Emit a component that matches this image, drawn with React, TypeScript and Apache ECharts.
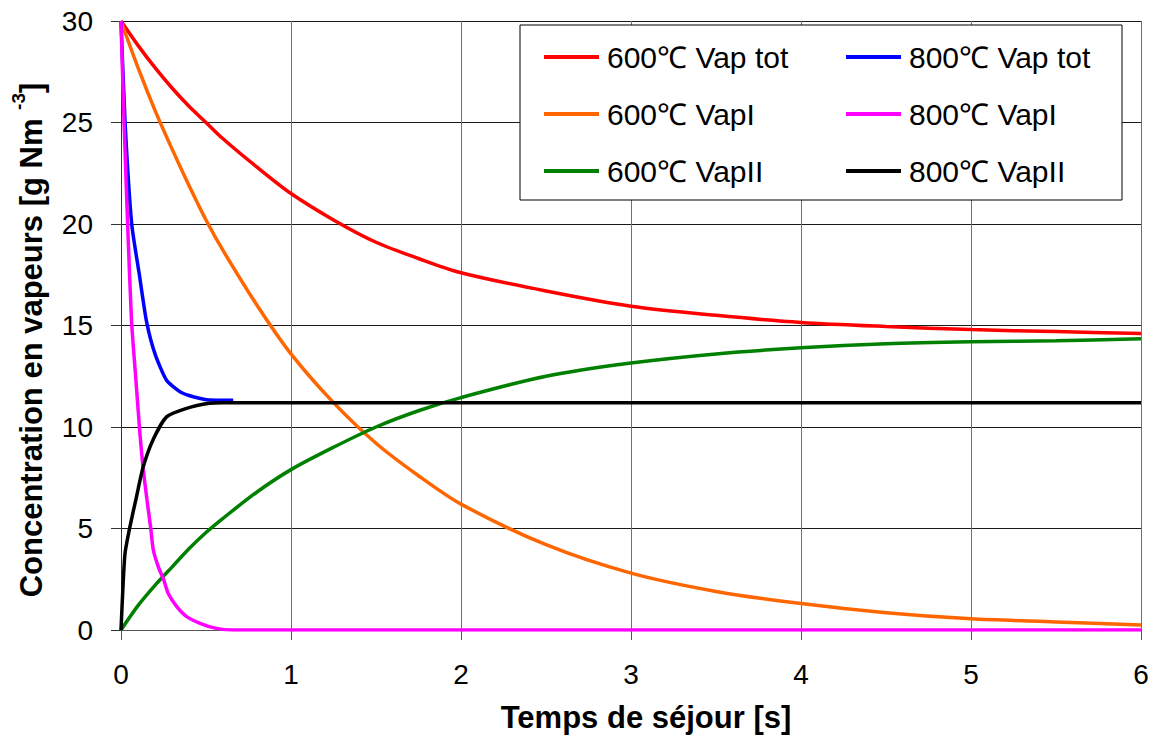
import React, { useEffect, useRef } from "react";
import * as echarts from "echarts";

// ---- data ----
const seriesNames = [
  "600℃ Vap tot",
  "600℃ VapI",
  "600℃ VapII",
  "800℃ Vap tot",
  "800℃ VapI",
  "800℃ VapII",
];
const legendOrder = [
  "600℃ Vap tot",
  "800℃ Vap tot",
  "600℃ VapI",
  "800℃ VapI",
  "600℃ VapII",
  "800℃ VapII",
];
const seriesColors = ["#FF0000", "#FF6600", "#008000", "#0000FF", "#FF00FF", "#000000"];
const seriesSmooth = [0.3, 0.3, 0.3, 0.2, 0.2, 0.2];

const time600 = [0, 0.1, 0.2, 0.3, 0.4, 0.5, 0.6, 0.8, 1.0, 1.25, 1.5, 1.75, 2.0, 2.5, 3.0, 3.5, 4.0, 4.5, 5.0, 5.5, 6.0];
const vapTot600 = [30, 28.8, 27.7, 26.7, 25.8, 25.0, 24.2, 22.8, 21.5, 20.2, 19.1, 18.3, 17.6, 16.7, 15.95, 15.5, 15.15, 14.95, 14.8, 14.7, 14.6];
const vapI600 = [30, 27.7, 25.6, 23.7, 21.9, 20.2, 18.7, 16.0, 13.6, 11.2, 9.2, 7.6, 6.2, 4.2, 2.8, 1.9, 1.3, 0.85, 0.55, 0.4, 0.25];
const vapII600 = [0, 1.2, 2.2, 3.1, 4.0, 4.8, 5.5, 6.8, 7.9, 9.0, 10.0, 10.8, 11.45, 12.5, 13.15, 13.6, 13.9, 14.1, 14.2, 14.25, 14.35];

const time800Tot = [0, 0.024, 0.063, 0.108, 0.15, 0.2, 0.268, 0.347, 0.425, 0.52, 0.66];
const vapTot800 = [30, 25, 20, 17.5, 15.2, 13.6, 12.3, 11.74, 11.49, 11.33, 11.32];

const time800I = [0, 0.018, 0.039, 0.062, 0.087, 0.112, 0.131, 0.153, 0.175, 0.19, 0.22, 0.25, 0.278, 0.328, 0.386, 0.465, 0.56, 0.66, 6];
const vapI800 = [30, 25, 20, 15.2, 12.4, 9.6, 7.9, 6.4, 5.0, 3.94, 3.1, 2.5, 1.8, 1.15, 0.66, 0.33, 0.08, 0, 0];

const time800II = [0, 0.012, 0.024, 0.053, 0.092, 0.131, 0.19, 0.268, 0.386, 0.52, 0.6, 6];
const vapII800 = [0, 2.2, 3.8, 5.1, 6.6, 8.05, 9.4, 10.5, 10.92, 11.17, 11.2, 11.2];

const seriesTimes = [time600, time600, time600, time800Tot, time800I, time800II];
const seriesValues = [vapTot600, vapI600, vapII600, vapTot800, vapI800, vapII800];

const xAxisTitle = "Temps de séjour [s]";
const yAxisTitleMain = "Concentration en vapeurs [g Nm ";
const yAxisTitleSup = "-3";
const yAxisTitleEnd = "]";

const FONT = "'Liberation Sans', Arial, Helvetica, sans-serif";

export default function App() {
  const ref = useRef<HTMLDivElement>(null);

  useEffect(() => {
    if (!ref.current) return;
    const chart = echarts.init(ref.current, null, { renderer: "svg" });

    const series = seriesNames.map((name, i) => ({
      name,
      type: "line",
      showSymbol: false,
      symbol: "none",
      smooth: seriesSmooth[i],
      color: seriesColors[i],
      lineStyle: { width: 3.5, color: seriesColors[i] },
      data: seriesTimes[i].map((t, j) => [t, seriesValues[i][j]]),
      z: 3,
    }));

    chart.setOption({
      animation: false,
      backgroundColor: "#ffffff",
      grid: {
        left: 121,
        right: 11,
        top: 21,
        bottom: 110,
        outerBoundsMode: "none",
      },
      xAxis: {
        type: "value",
        min: 0,
        max: 6,
        interval: 1,
        axisLine: { show: true, onZero: false, lineStyle: { color: "#555555", width: 1 } },
        axisTick: { show: true, inside: false, length: 10, lineStyle: { color: "#555555" } },
        axisLabel: { fontSize: 28, color: "#000", fontFamily: FONT, margin: 30 },
        splitLine: { show: true, lineStyle: { color: "#707070", width: 1 } },
      },
      yAxis: {
        type: "value",
        min: 0,
        max: 30,
        interval: 5,
        axisLine: { show: true, lineStyle: { color: "#333333", width: 1 } },
        axisTick: { show: true, inside: false, length: 10, lineStyle: { color: "#333333" } },
        axisLabel: { fontSize: 28, color: "#000", fontFamily: FONT, margin: 28 },
        splitLine: { show: true, lineStyle: { color: "#1a1a1a", width: 1 } },
      },
      legend: {
        data: legendOrder,
        orient: "horizontal",
        left: 520,
        top: 25,
        width: 580,
        padding: [17, 1, 14, 24],
        itemGap: 27,
        itemWidth: 55,
        itemHeight: 4,
        icon: "rect",
        backgroundColor: "#ffffff",
        borderColor: "#000000",
        borderWidth: 1,
        borderRadius: 0,
        selectedMode: false,
        textStyle: {
          fontSize: 30,
          color: "#000",
          fontFamily: FONT,
          width: 212,
          lineHeight: 28,
          padding: [0, 0, 0, 3],
        },
      },
      graphic: [
        {
          type: "text",
          x: 646,
          y: 717,
          style: {
            text: xAxisTitle,
            font: `bold 31px ${FONT}`,
            fill: "#000",
            align: "center",
            verticalAlign: "middle",
          },
        },
        {
          type: "text",
          x: 31,
          y: 340,
          rotation: Math.PI / 2,
          style: {
            text: `{a|${yAxisTitleMain}}{s|${yAxisTitleSup}}{a|${yAxisTitleEnd}}`,
            align: "center",
            verticalAlign: "middle",
            fill: "#000",
            rich: {
              a: {
                fontSize: 31,
                fontWeight: "bold",
                fontFamily: FONT,
                lineHeight: 44,
                fill: "#000",
              },
              s: {
                fontSize: 19,
                fontWeight: "bold",
                fontFamily: FONT,
                verticalAlign: "top",
                lineHeight: 19,
                fill: "#000",
              },
            },
          },
        },
      ],
      series,
    });

    return () => {
      chart.dispose();
    };
  }, []);

  return (
    <div
      ref={ref}
      style={{ position: "fixed", left: 0, top: 0, width: 1152, height: 740, background: "#fff" }}
    />
  );
}
